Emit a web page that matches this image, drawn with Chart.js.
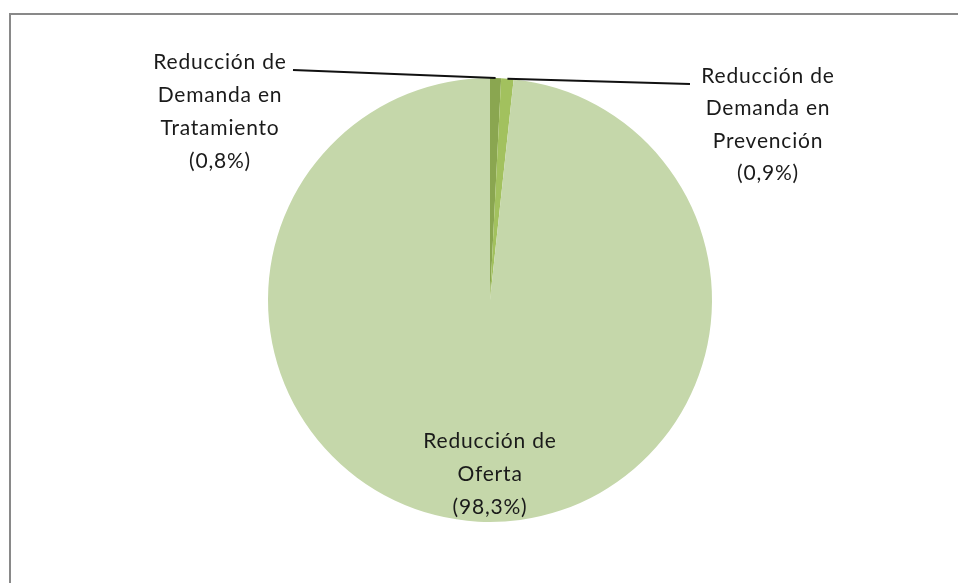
<!DOCTYPE html>
<html>
<head>
<meta charset="utf-8">
<script src="https://cdn.jsdelivr.net/npm/chart.js@4"></script>
<style>
  html, body { margin: 0; padding: 0; background: #fff; overflow: hidden; }
  #wrap { position: relative; width: 958px; height: 583px; }
  #frame { position: absolute; left: 9px; top: 13px; width: 1000px; height: 700px; border: 2px solid #898989; box-sizing: border-box; }
  #chart { position: absolute; left: 0; top: 0; }
</style>
</head>
<body>
<div id="wrap">
  <div id="frame"></div>
  <canvas id="chart" width="958" height="583"></canvas>
</div>
<script>
// datos del gráfico
const categories = [
  ['Reducción de', 'Demanda en', 'Tratamiento'],
  ['Reducción de', 'Demanda en', 'Prevención'],
  ['Reducción de', 'Oferta'],
];
const shares = [0.8, 0.9, 98.3];
const sliceColors = ['#8aa650', '#a2c15e', '#c5d7aa'];

// where each label sits, relative to the pie centre (px)
const labelSpots = [
  { x: -270, y: -238, gap: 33, leader: { x: -197, y: -230 } },
  { x: 278, y: -224, gap: 32.5, leader: { x: 200, y: -216 } },
  { x: 0, y: 141, gap: 33, leader: null },
];

function pct(v) {
  return '(' + v.toFixed(1).replace('.', ',') + '%)';
}

const labelPlugin = {
  id: 'sliceLabels',
  afterDraw(chart) {
    const ctx = chart.ctx;
    const arcs = chart.getDatasetMeta(0).data;
    ctx.save();
    arcs.forEach((arc, i) => {
      const spot = labelSpots[i];
      const cx = arc.x, cy = arc.y;
      if (spot.leader) {
        const mid = (arc.startAngle + arc.endAngle) / 2;
        const r = arc.outerRadius;
        ctx.beginPath();
        ctx.moveTo(cx + spot.leader.x, cy + spot.leader.y);
        ctx.lineTo(cx + Math.cos(mid) * r, cy + Math.sin(mid) * r);
        ctx.strokeStyle = '#111';
        ctx.lineWidth = 2;
        ctx.stroke();
      }
      const lines = categories[i].concat([pct(shares[i])]);
      ctx.font = '21px Lato';
      ctx.letterSpacing = '0.8px';
      ctx.fillStyle = '#1a1a1a';
      ctx.textAlign = 'center';
      ctx.textBaseline = 'middle';
      lines.forEach((txt, k) => {
        ctx.fillText(txt, cx + spot.x, cy + spot.y + k * spot.gap);
      });
    });
    ctx.restore();
  },
};

new Chart(document.getElementById('chart'), {
  type: 'pie',
  data: {
    labels: categories.map((c) => c.join(' ')),
    datasets: [{ data: shares, backgroundColor: sliceColors, borderWidth: 0 }],
  },
  options: {
    responsive: false,
    animation: false,
    layout: { padding: { left: 22, right: 0, top: 78, bottom: 61 } },
    plugins: { legend: { display: false }, tooltip: { enabled: false } },
  },
  plugins: [labelPlugin],
});
</script>
</body>
</html>
